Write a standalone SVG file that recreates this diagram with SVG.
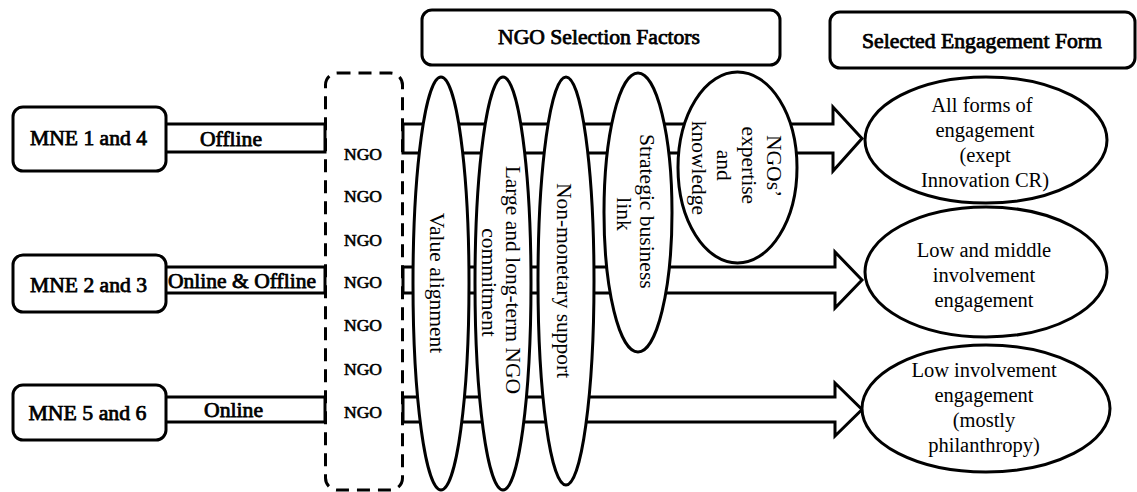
<svg xmlns="http://www.w3.org/2000/svg" width="1137" height="492" viewBox="0 0 1137 492">
  <style>
    .line { fill: #fff; stroke: #000; stroke-width: 3; stroke-linejoin: miter; }
    .box { fill: #fff; stroke: #000; stroke-width: 3; }
    .dash { fill: none; stroke: #000; stroke-width: 3; stroke-dasharray: 13 8; }
    .oval { fill: #fff; stroke: #000; stroke-width: 3; }
    text { font-family: "Liberation Serif", "Times New Roman", serif; fill: #000; text-anchor: middle; }
    /* heavy labels: serif face thickened with a thin outline */
    .b { font-size: 20.5px; stroke: #000; stroke-width: 0.75; }
    .ngo { font-size: 16.5px; stroke: #000; stroke-width: 0.6; }
    .r { font-size: 20.5px; }
    .v { font-size: 21.5px; }
  </style>
  <rect width="1137" height="492" fill="#fff"/>

  <!-- channel bars and block arrows -->
  <g id="connectors">
    <rect class="line" x="165" y="124" width="160" height="28"/>
    <rect class="line" x="165" y="267" width="160" height="26"/>
    <rect class="line" x="165" y="397" width="160" height="25"/>
    <path class="line" d="M403,124 H833 V107 L862,138.5 L833,171 V153 H403 Z"/>
    <path class="line" d="M403,267 H835 V252 L862,280 L835,308 V293 H403 Z"/>
    <path class="line" d="M403,397 H835 V383 L862,409.5 L835,436 V422 H403 Z"/>
    <text class="b" x="231" y="146" textLength="62" lengthAdjust="spacingAndGlyphs">Offline</text>
    <text class="b" x="242" y="288" textLength="148" lengthAdjust="spacingAndGlyphs">Online &amp; Offline</text>
    <text class="b" x="233.5" y="417" textLength="59" lengthAdjust="spacingAndGlyphs">Online</text>
  </g>

  <!-- MNE groups -->
  <g id="mne14">
    <rect class="box" x="13" y="107" width="153" height="64" rx="10"/>
    <text class="b" x="88.5" y="145" textLength="117" lengthAdjust="spacingAndGlyphs">MNE 1 and 4</text>
  </g>
  <g id="mne23">
    <rect class="box" x="13" y="255" width="153" height="57" rx="10"/>
    <text class="b" x="88.5" y="292" textLength="117" lengthAdjust="spacingAndGlyphs">MNE 2 and 3</text>
  </g>
  <g id="mne56">
    <rect class="box" x="13" y="385" width="153" height="55" rx="10"/>
    <text class="b" x="87.5" y="420" textLength="118" lengthAdjust="spacingAndGlyphs">MNE 5 and 6</text>
  </g>

  <!-- NGO pool -->
  <g id="ngo-pool">
    <rect class="dash" x="325.5" y="73" width="77" height="417" rx="12"/>
    <text class="ngo" x="363" y="160" textLength="38" lengthAdjust="spacingAndGlyphs">NGO</text>
    <text class="ngo" x="363" y="202" textLength="38" lengthAdjust="spacingAndGlyphs">NGO</text>
    <text class="ngo" x="363" y="246" textLength="38" lengthAdjust="spacingAndGlyphs">NGO</text>
    <text class="ngo" x="363" y="288" textLength="38" lengthAdjust="spacingAndGlyphs">NGO</text>
    <text class="ngo" x="363" y="331" textLength="38" lengthAdjust="spacingAndGlyphs">NGO</text>
    <text class="ngo" x="363" y="375" textLength="38" lengthAdjust="spacingAndGlyphs">NGO</text>
    <text class="ngo" x="363" y="418" textLength="38" lengthAdjust="spacingAndGlyphs">NGO</text>
  </g>

  <!-- selection factors -->
  <g id="factor-value">
    <ellipse class="oval" cx="441" cy="283.5" rx="28" ry="206.5"/>
    <text class="v" transform="translate(430,283) rotate(90)">Value alignment</text>
  </g>
  <g id="factor-commitment">
    <ellipse class="oval" cx="503" cy="283.5" rx="28" ry="206.5"/>
    <text class="v" transform="translate(506,282.5) rotate(90)">
      <tspan x="0" y="0">Large and long-term NGO</tspan>
      <tspan x="0" y="24">commitment</tspan>
    </text>
  </g>
  <g id="factor-nonmonetary">
    <ellipse class="oval" cx="566" cy="281" rx="28" ry="204"/>
    <text class="v" transform="translate(557,280.5) rotate(90)">Non-monetary support</text>
  </g>
  <g id="factor-strategic">
    <ellipse class="oval" cx="638" cy="212.5" rx="34" ry="139.5"/>
    <text class="v" transform="translate(640,214) rotate(90)">
      <tspan x="0" y="0">Strategic business</tspan>
      <tspan x="0" y="23">link</tspan>
    </text>
  </g>
  <g id="factor-expertise">
    <ellipse class="oval" cx="737.5" cy="167.5" rx="59.5" ry="95.5"/>
    <text class="v" transform="translate(767,168) rotate(90)">
      <tspan x="0" y="0">NGOs’</tspan>
      <tspan x="0" y="25">expertise</tspan>
      <tspan x="0" y="50">and</tspan>
      <tspan x="0" y="75">knowledge</tspan>
    </text>
  </g>

  <!-- column headers -->
  <g id="header-factors">
    <rect class="box" x="422" y="10" width="358" height="55" rx="10"/>
    <text class="b" x="599" y="44" textLength="202" lengthAdjust="spacingAndGlyphs">NGO Selection Factors</text>
  </g>
  <g id="header-form">
    <rect class="box" x="830" y="12" width="305" height="56" rx="10"/>
    <text class="b" x="982" y="48" textLength="240" lengthAdjust="spacingAndGlyphs">Selected Engagement Form</text>
  </g>

  <!-- engagement forms -->
  <g id="form-all">
    <ellipse class="oval" cx="986" cy="140" rx="121" ry="63"/>
    <text class="r" x="982" y="112">All forms of</text>
    <text class="r" x="985" y="137">engagement</text>
    <text class="r" x="985" y="162">(exept</text>
    <text class="r" x="985" y="187">Innovation CR)</text>
  </g>
  <g id="form-low-middle">
    <ellipse class="oval" cx="986" cy="272" rx="121" ry="65"/>
    <text class="r" x="984" y="257">Low and middle</text>
    <text class="r" x="984" y="282">involvement</text>
    <text class="r" x="984" y="307">engagement</text>
  </g>
  <g id="form-low">
    <ellipse class="oval" cx="986" cy="408.5" rx="124" ry="63.5"/>
    <text class="r" x="984" y="377">Low involvement</text>
    <text class="r" x="984" y="402">engagement</text>
    <text class="r" x="984" y="427">(mostly</text>
    <text class="r" x="984" y="452">philanthropy)</text>
  </g>
</svg>
